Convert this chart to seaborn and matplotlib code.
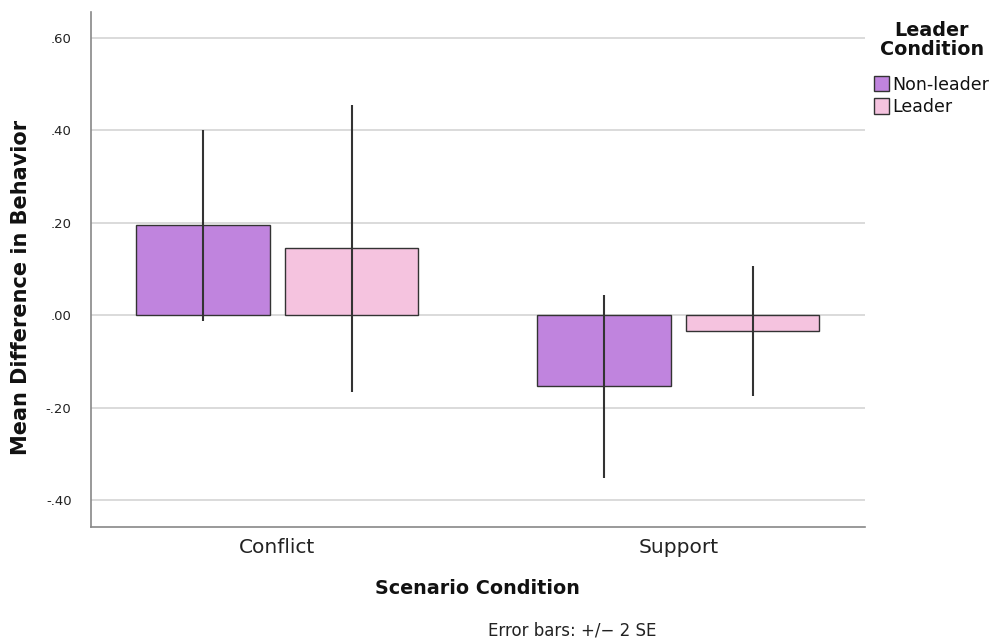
import matplotlib
matplotlib.use("Agg")
import matplotlib.pyplot as plt
import seaborn as sns
import pandas as pd
import numpy as np
from matplotlib.patches import Patch

scenarios = ["Conflict", "Conflict", "Support", "Support"]
leaders = ["Non-leader", "Leader", "Non-leader", "Leader"]
means = [0.195, 0.145, -0.154, -0.035]
err_low = [-0.013, -0.166, -0.352, -0.175]
err_high = [0.400, 0.456, 0.043, 0.106]
hue_order = ["Non-leader", "Leader"]
colors = ["#C084DE", "#F5C3DF"]
yticks = [-0.40, -0.20, 0.00, 0.20, 0.40, 0.60]
ytick_labels = ["-.40", "-.20", ".00", ".20", ".40", ".60"]

df = pd.DataFrame({"Scenario": scenarios, "Leader": leaders, "Mean": means,
                   "lo": err_low, "hi": err_high})

sns.set_theme(style="white")
plt.rcParams["font.family"] = ["DejaVu Sans"]
plt.rcParams["text.color"] = "#111111"

fig = plt.figure(figsize=(9.93, 6.44), dpi=100)
ax = fig.add_axes([0.0916, 0.182, 0.871 - 0.0916, 0.981 - 0.182])

ax.set_axisbelow(True)
ax.yaxis.grid(True, color="#d4d4d4", linewidth=1.2)

sns.barplot(data=df, x="Scenario", y="Mean", hue="Leader", hue_order=hue_order,
            palette=colors, width=0.74, gap=0.1, errorbar=None,
            edgecolor="#333333", linewidth=1.0, saturation=1, ax=ax, legend=False)

# error bars at bar centers
for patch_container, lvl in zip(ax.containers, hue_order):
    sub = df[df["Leader"] == lvl].reset_index(drop=True)
    for bar, (_, row) in zip(patch_container, sub.iterrows()):
        xc = bar.get_x() + bar.get_width() / 2
        ax.vlines(xc, row["lo"], row["hi"], color="#333333", linewidth=1.5, zorder=5)

ax.set_xlim(-0.465, 1.465)
ax.set_ylim(-0.458, 0.656)
ax.set_yticks(yticks)
ax.set_yticklabels(ytick_labels, fontsize=9.5)
ax.tick_params(axis="x", labelsize=14.5, length=0, pad=8, colors="#222222")
ax.tick_params(axis="y", length=0, pad=14, colors="#222222")

for s in ["top", "right"]:
    ax.spines[s].set_visible(False)
for s in ["left", "bottom"]:
    ax.spines[s].set_color("#888888")
    ax.spines[s].set_linewidth(1.2)

ax.set_ylabel("Mean Difference in Behavior", fontsize=15, fontweight="bold", color="#111111")
ax.yaxis.set_label_coords(-0.078, 0.466)
ax.set_xlabel("Scenario Condition", fontsize=13.8, fontweight="bold",
              labelpad=16, color="#111111")

handles = [Patch(facecolor=c, edgecolor="#333333", label=l) for c, l in zip(colors, hue_order)]
leg = ax.legend(handles=handles, title="Leader\nCondition", loc="upper left",
                bbox_to_anchor=(1.0, 1.0), frameon=False, fontsize=12.5,
                title_fontproperties={"weight": "bold", "size": 13.8},
                handlelength=0.9, handleheight=1.0, handletextpad=0.2,
                labelspacing=0.25, borderaxespad=0.1, alignment="center")
leg.get_title().set_multialignment("center")
leg.get_title().set_linespacing(1.0)
leg._legend_box.sep = 12

fig.text(0.576, 0.013, "Error bars: +/\u2212 2 SE", fontsize=12, ha="center", color="#222222")

fig.savefig("out.png", dpi=100)
